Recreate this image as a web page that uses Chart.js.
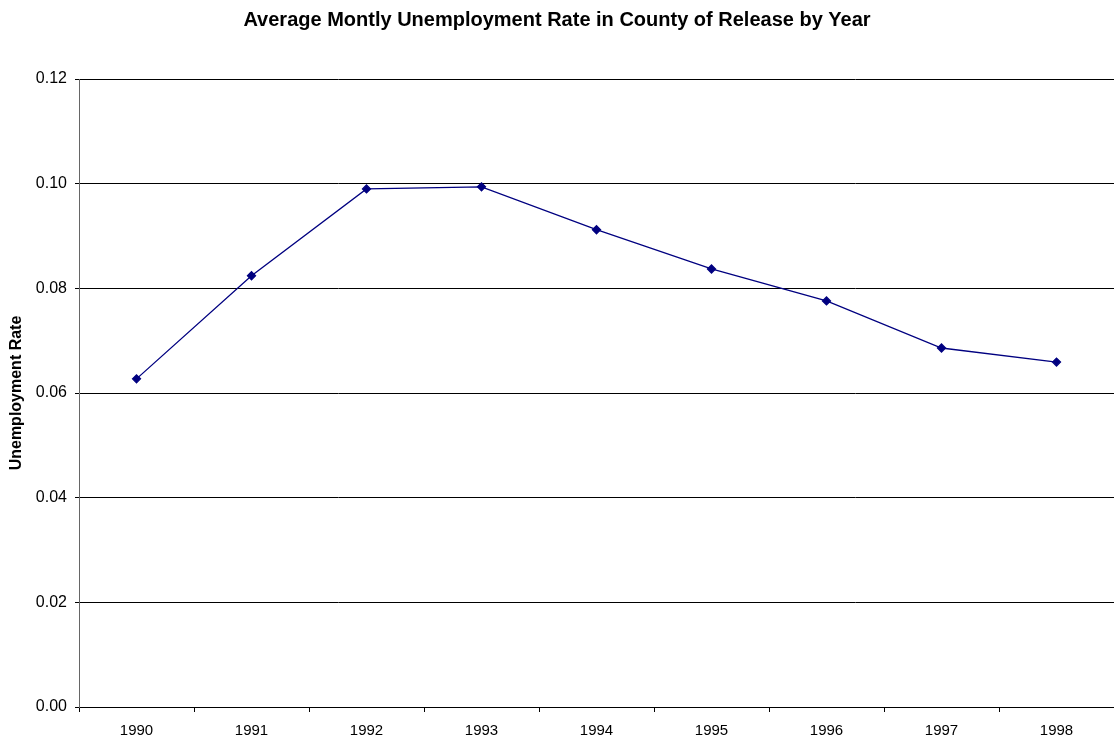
<!DOCTYPE html>
<html>
<head>
<meta charset="utf-8">
<script src="https://cdn.jsdelivr.net/npm/chart.js@4/dist/chart.umd.min.js"></script>
<style>
  html, body { margin: 0; padding: 0; background: #fff; }
  #wrap { width: 1114px; height: 742px; position: relative; }
</style>
</head>
<body>
<div id="wrap"><canvas id="rateChart"></canvas></div>
<script>
// Average monthly unemployment rate per release year
const years = ["1990", "1991", "1992", "1993", "1994", "1995", "1996", "1997", "1998"];
const rates = [0.0627, 0.0824, 0.0990, 0.0994, 0.0912, 0.0837, 0.0776, 0.0686, 0.0659];
const yTicks = [0, 0.02, 0.04, 0.06, 0.08, 0.10, 0.12];

const ctx = document.getElementById("rateChart").getContext("2d");

new Chart(ctx, {
  type: "line",
  data: {
    labels: years,
    datasets: [
      {
        label: "Unemployment Rate",
        data: rates,
        borderColor: "#000080",
        backgroundColor: "#000080",
        borderWidth: 1.3,
        pointStyle: "rectRot",
        pointRadius: 4,
        pointHoverRadius: 4,
        tension: 0,
      },
    ],
  },
  options: {
    responsive: true,
    maintainAspectRatio: false,
    animation: false,
    layout: { padding: 0, autoPadding: false },
    plugins: {
      legend: { display: false },
      tooltip: { enabled: false },
      title: {
        display: true,
        text: "Average Montly Unemployment Rate in County of Release by Year",
        color: "#000",
        font: { family: "Liberation Sans", size: 20, weight: "bold" },
        padding: { top: 8, bottom: 47 },
      },
    },
    scales: {
      x: {
        offset: true,
        grid: {
          offset: true,
          drawOnChartArea: false,
          drawTicks: true,
          tickLength: 5,
          color: "#000",
        },
        border: { color: "#000", width: 1 },
        ticks: {
          color: "#000",
          padding: 10,
          maxRotation: 0,
          font: { family: "Liberation Sans", size: 15 },
        },
        afterFit: (scale) => {
          scale.height = 35;
          // keep the plot flush with the right edge
          scale.paddingLeft = 0;
          scale.paddingRight = 0;
        },
      },
      y: {
        min: 0,
        max: 0.12,
        afterBuildTicks: (scale) => {
          scale.ticks = yTicks.map((v) => ({ value: v }));
        },
        grid: {
          color: "#000",
          lineWidth: 1,
          tickLength: 4,
        },
        border: { color: "#666", width: 1 },
        ticks: {
          color: "#000",
          padding: 8,
          font: { family: "Liberation Sans", size: 16 },
          callback: (v) => Number(v).toFixed(2),
        },
        title: {
          display: true,
          text: "Unemployment Rate",
          color: "#000",
          font: { family: "Liberation Sans", size: 16, weight: "bold" },
          padding: { top: 7, bottom: 4 },
        },
        afterFit: (scale) => {
          scale.width = 79;
          scale.paddingTop = 0;
          scale.paddingBottom = 0;
        },
      },
    },
  },
});
</script>
</body>
</html>
